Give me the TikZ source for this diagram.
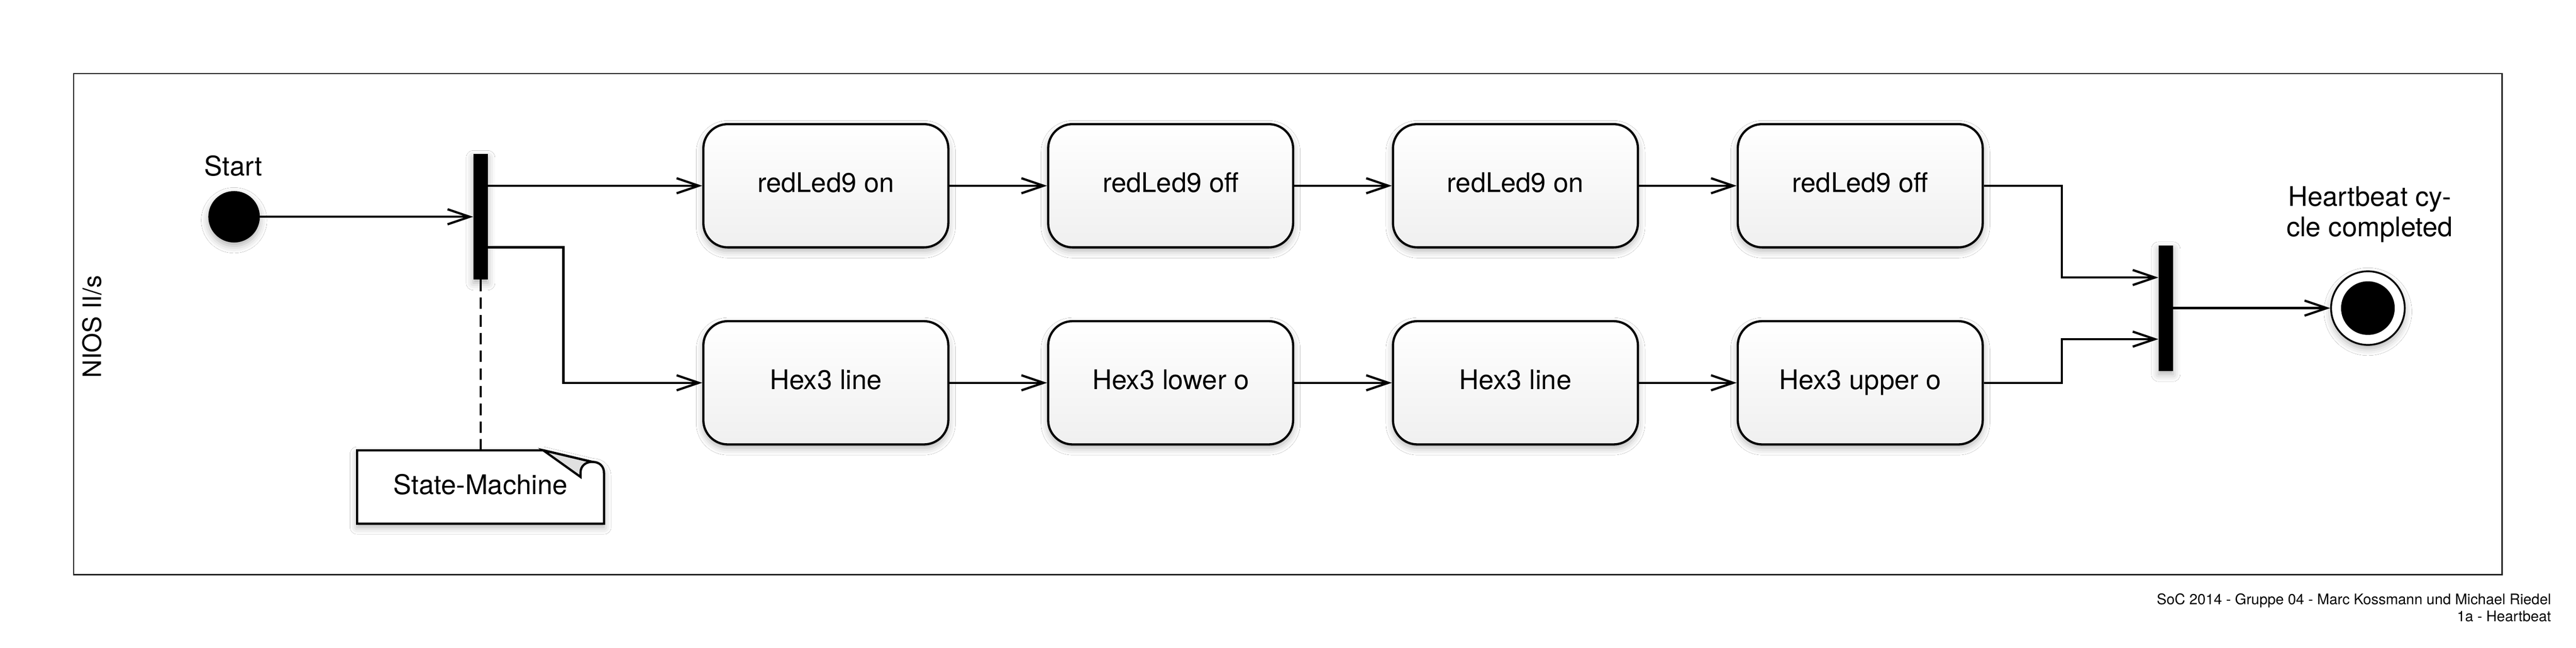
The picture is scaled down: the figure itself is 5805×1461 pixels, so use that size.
\documentclass[tikz,border=0pt]{standalone}
\usepackage{fontspec}
\setmainfont{TeX Gyre Heros}
\usetikzlibrary{arrows.meta,shadows.blur,calc}
\begin{document}
\begin{tikzpicture}[x=1pt,y=-1pt,
  lbl/.style={font=\fontsize{61}{69}\selectfont, inner sep=0pt},
  shad/.style={blur shadow={shadow xshift=0pt, shadow yshift=-8pt, shadow blur radius=16pt, shadow opacity=30}},
  statebox/.style={draw=black, line width=5pt, rounded corners=55pt, minimum width=552pt, minimum height=278pt, top color=white, bottom color=black!6, shad, lbl, text height=45pt, text depth=15pt},
  bar/.style={fill=black, minimum width=33pt, minimum height=283pt, inner sep=0pt, shad},
  conn/.style={line width=5pt, -{Straight Barb[length=50pt,width=34pt]}},
  notestyle/.style={inner sep=0pt, minimum width=556pt, minimum height=165pt},
  noteline/.style={draw=black, line width=5pt, line join=miter},
]
\path[use as bounding box, fill=white] (0,0) rectangle (5805,1461);
\draw[line width=3pt, black!85] (166,166) rectangle (5638,1296);

% lane label and footer
\node[font=\fontsize{57}{60}\selectfont, rotate=90, inner sep=0pt] (lane) at (207.5,737) {NIOS II/s};
\node[font=\fontsize{33}{39}\selectfont, anchor=base east, align=right, inner sep=0pt] (foot) at (5749,1402) {SoC 2014 - Gruppe 04 - Marc Kossmann und Michael Riedel\\1a - Heartbeat};

% start
\node[circle, fill=black, minimum size=116pt, inner sep=0pt, shad] (start) at (527.5,489) {};
\node[lbl, anchor=base] (startlbl) at (526,396) {Start};

% fork / join bars
\node[bar] (fork) at (1083,489) {};
\node[bar] (join) at (4880.5,695) {};

% states
\node[statebox] (r1) at (1861,419) {redLed9 on};
\node[statebox] (r2) at (2638,419) {redLed9 off};
\node[statebox] (r3) at (3415,419) {redLed9 on};
\node[statebox] (r4) at (4192,419) {redLed9 off};
\node[statebox] (h1) at (1861,863.5) {Hex3 line};
\node[statebox] (h2) at (2638,863.5) {Hex3 lower o};
\node[statebox] (h3) at (3415,863.5) {Hex3 line};
\node[statebox] (h4) at (4192,863.5) {Hex3 upper o};

% final
\node[circle, draw=black, line width=4pt, fill=white, minimum size=166pt, inner sep=0pt, shad] (final) at (5336,695) {};
\node[circle, fill=black, minimum size=121pt, inner sep=0pt] (finaldot) at (final) {};
\node[lbl, anchor=base, align=center] (endlbl) at (5340,534) {Heartbeat cy-\\cle completed};

% note
\node[notestyle] (note) at (1083,1098.5) {};
\path[noteline, fill=white, shad] (note.north west) -- ($(note.north east)+(-137,0)$) -- ($(note.north east)+(-27,26)$)
  .. controls ($(note.north east)+(-10,26)$) and ($(note.north east)+(0,36)$) .. ($(note.north east)+(0,52)$)
  -- (note.south east) -- (note.south west) -- cycle;
\path[noteline, fill=black!12] ($(note.north east)+(-137,0)$) -- ($(note.north east)+(-53,60)$) -- ($(note.north east)+(-53,50)$)
  .. controls ($(note.north east)+(-53,36)$) and ($(note.north east)+(-42,26)$) .. ($(note.north east)+(-27,26)$) -- cycle;
\node[lbl] (notetext) at ($(note.center)+(0,-6)$) {State-Machine};

% connectors
\draw[conn] (start) -- (fork);
\draw[conn] (fork.east |- r1) -- (r1);
\coordinate (fk2) at ($(fork.east)+(0,69)$);
\draw[conn] (fk2) -- ++(170,0) |- (h1);
\draw[conn] (r1) -- (r2);
\draw[conn] (r2) -- (r3);
\draw[conn] (r3) -- (r4);
\draw[conn] (h1) -- (h2);
\draw[conn] (h2) -- (h3);
\draw[conn] (h3) -- (h4);
\draw[conn] (r4.east) -- ++(176,0) |- ($(join.west)+(0,-69)$);
\draw[conn] (h4.east) -- ++(176,0) |- ($(join.west)+(0,70)$);
\draw[conn] (join) -- (final);
\draw[line width=5pt, dash pattern=on 26pt off 14pt] (fork.south) -- (note.north);
\end{tikzpicture}
\end{document}
